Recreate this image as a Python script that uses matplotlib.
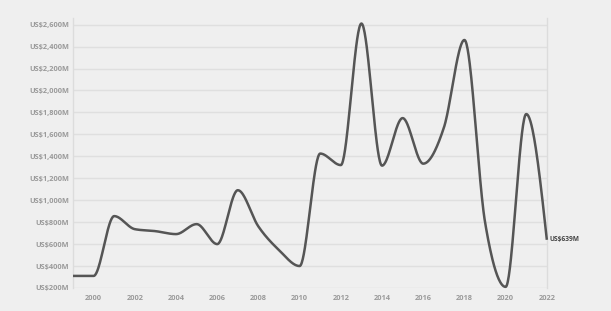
import numpy as np
import matplotlib
matplotlib.use("Agg")
import matplotlib.pyplot as plt
from matplotlib.ticker import FuncFormatter

years = [1999, 2000, 2001, 2002, 2003, 2004, 2005, 2006, 2007, 2008, 2009, 2010,
         2011, 2012, 2013, 2014, 2015, 2016, 2017, 2018, 2019, 2020, 2021, 2022]
values = [310, 310, 855, 736, 718, 691, 782, 600, 1091, 760, 545, 400,
          1425, 1320, 2610, 1315, 1748, 1333, 1660, 2460, 800, 210, 1785, 639]
x_ticks = [2000, 2002, 2004, 2006, 2008, 2010, 2012, 2014, 2016, 2018, 2020, 2022]
y_ticks = [200, 400, 600, 800, 1000, 1200, 1400, 1600, 1800, 2000, 2200, 2400, 2600]
end_label = "US$639M"


def monotone_curve(x, y, n=40):
    """Monotone cubic (d3 curveMonotoneX style) rendering of the points."""
    x = np.asarray(x, float)
    y = np.asarray(y, float)
    m = len(x)
    h = np.diff(x)
    s = np.diff(y) / h
    t = np.zeros(m)
    for i in range(1, m - 1):
        s0, s1 = s[i - 1], s[i]
        h0, h1 = h[i - 1], h[i]
        p = (s0 * h1 + s1 * h0) / (h0 + h1)
        t[i] = (np.sign(s0) + np.sign(s1)) * min(abs(s0), abs(s1), 0.5 * abs(p))
    t[0] = (3 * s[0] - t[1]) / 2
    t[-1] = (3 * s[-1] - t[-2]) / 2
    xs, ys = [], []
    for i in range(m - 1):
        u = np.linspace(0, 1, n)
        dx = h[i]
        h00 = 2 * u**3 - 3 * u**2 + 1
        h10 = u**3 - 2 * u**2 + u
        h01 = -2 * u**3 + 3 * u**2
        h11 = u**3 - u**2
        yy = h00 * y[i] + h10 * dx * t[i] + h01 * y[i + 1] + h11 * dx * t[i + 1]
        xs.append(x[i] + u * dx)
        ys.append(yy)
    return np.concatenate(xs), np.concatenate(ys)


bg = "#efefef"
fig = plt.figure(figsize=(6.11, 3.11), dpi=100, facecolor=bg)
ax = fig.add_axes([0.1195, 0.074, 0.7755, 0.868])
ax.set_facecolor(bg)

cx, cy = monotone_curve(years, values)
ax.plot(cx, cy, color="#555555", lw=1.8, solid_capstyle="butt", zorder=3, clip_on=False)

ax.set_xlim(1999, 2022)
ax.set_ylim(200, 2660)
ax.set_xticks(x_ticks)
ax.set_yticks(y_ticks)
ax.yaxis.set_major_formatter(FuncFormatter(lambda v, p: "US${:,.0f}M".format(v)))
ax.grid(axis="y", color="#dfdfdf", lw=1.0)
ax.set_axisbelow(True)
for side in ["top", "bottom"]:
    ax.spines[side].set_visible(False)
for side in ["left", "right"]:
    ax.spines[side].set_color("#dcdcdc")
    ax.spines[side].set_linewidth(1.0)
ax.tick_params(axis="both", length=0, colors="#9a9a9a", labelsize=5.3)
ax.tick_params(axis="x", pad=5)
ax.tick_params(axis="y", pad=3)
for lab in ax.get_xticklabels() + ax.get_yticklabels():
    lab.set_family("Open Sans")
    lab.set_fontweight("bold")

ax.annotate(end_label, xy=(years[-1], values[-1]), xytext=(2, 0), textcoords="offset points",
            ha="left", va="center", fontsize=4.8, fontweight="bold", color="#444444",
            family="Open Sans", annotation_clip=False)

fig.savefig("out.png", dpi=100, facecolor=bg)
